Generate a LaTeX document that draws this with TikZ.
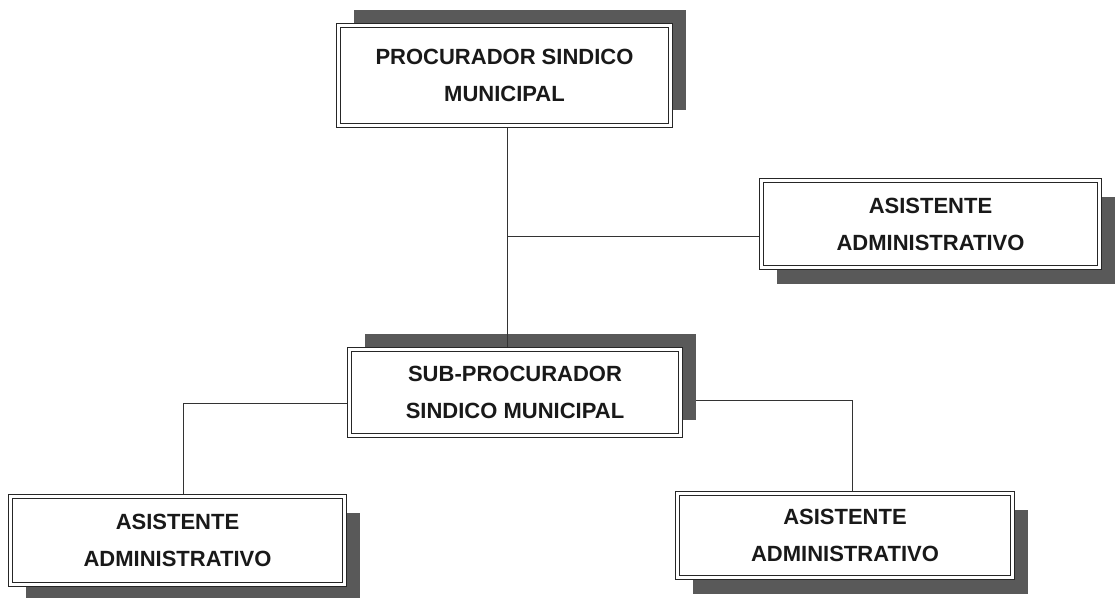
\documentclass[tikz,border=0pt]{standalone}
\usepackage{fontspec}
\setmainfont{Liberation Sans}
\usetikzlibrary{shadows,backgrounds,positioning}

\begin{document}
\begin{tikzpicture}[x=1pt,y=-1pt,
  cargo/.style={draw=black!85,line width=1.1pt,double=white,double distance=2.6pt,
    fill=white,align=center,inner sep=0pt,outer sep=2.5pt,text=black!90,
    font=\fontsize{22}{37}\selectfont\bfseries},
  sombra arriba/.style={drop shadow={shadow xshift=15pt,shadow yshift=16pt,fill=black!65,opacity=1}},
  sombra abajo/.style={drop shadow={shadow xshift=15pt,shadow yshift=-16pt,fill=black!65,opacity=1}},
  linea/.style={draw=black!80,line width=0.8pt}]

\useasboundingbox (0,0) rectangle (1119,597);

\node[cargo,sombra arriba,minimum width=332pt,minimum height=100pt] (psm) at (504.5,75.5)
  {PROCURADOR SINDICO\\MUNICIPAL};
\node[cargo,sombra abajo,minimum width=338pt,minimum height=87pt] (asis1) at (930.5,224)
  {ASISTENTE\\ADMINISTRATIVO};
\node[cargo,sombra arriba,minimum width=331pt,minimum height=86pt] (spsm) at (515,392.5)
  {SUB-PROCURADOR\\SINDICO MUNICIPAL};
\node[cargo,sombra abajo,minimum width=334pt,minimum height=88pt] (asis2) at (177.5,540.5)
  {ASISTENTE\\ADMINISTRATIVO};
\node[cargo,sombra abajo,minimum width=335pt,minimum height=84pt] (asis3) at (845,535.5)
  {ASISTENTE\\ADMINISTRATIVO};

\coordinate (cruce) at (507,236);
\draw[linea,line width=1pt] (psm.south -| cruce) -- (spsm.north -| cruce);
\draw[linea] (cruce) -- (asis1.west |- cruce);

\begin{scope}[on background layer]
\draw[linea] ([yshift=-10.5pt]spsm.west) -| ([xshift=5.5pt]asis2.north);
\draw[linea] ([yshift=-7.5pt]spsm.east) -| ([xshift=7pt]asis3.north);
\end{scope}

\end{tikzpicture}
\end{document}
